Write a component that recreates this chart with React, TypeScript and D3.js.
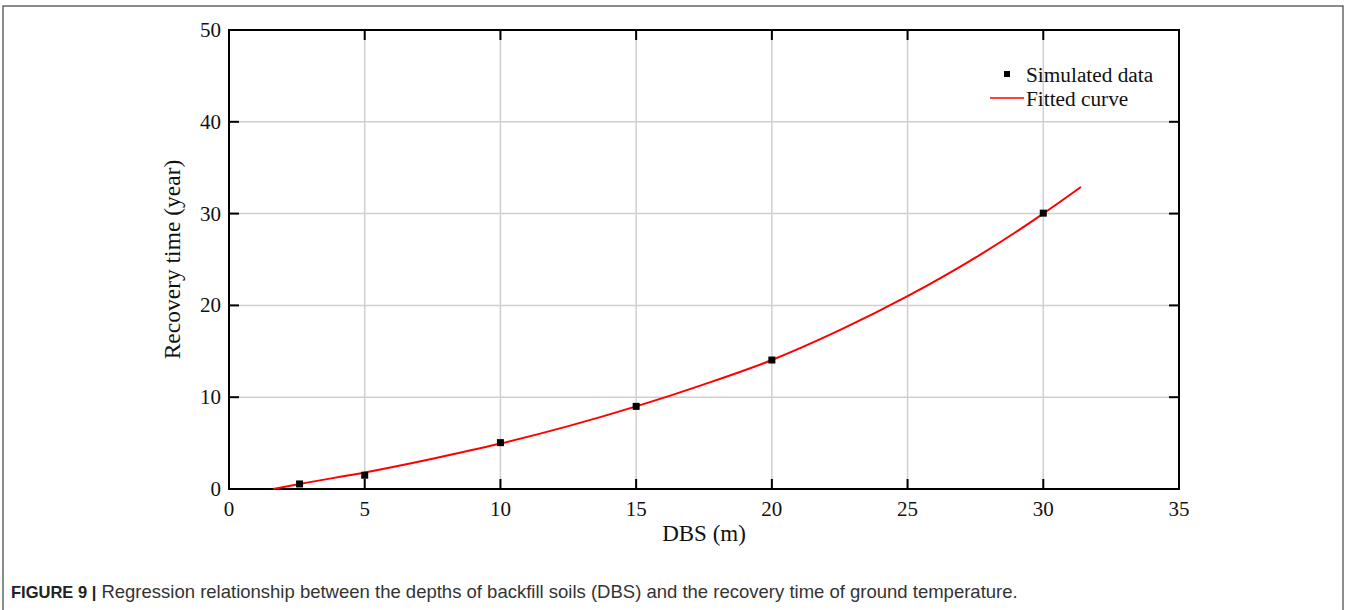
import React from "react";
import * as d3 from "d3";

// Simulated recovery times at each backfill depth
const simDepth = [2.6, 5, 10, 15, 20, 30];
const simTime = [0.55, 1.5, 5.05, 9.0, 14.05, 30.05];

// Points along the fitted regression curve
const fitDepth = [1.63, 2.6, 5, 7.5, 10, 12.5, 15, 17.5, 20, 22.5, 25, 27.5, 30, 31.39];
const fitTime = [0, 0.55, 1.8, 3.3, 4.95, 6.85, 9.0, 11.4, 14.05, 17.3, 21.0, 25.2, 30.0, 32.9];

const xTicks = [0, 5, 10, 15, 20, 25, 30, 35];
const yTicks = [0, 10, 20, 30, 40, 50];

const W = 1351;
const H = 610;
const plot = { left: 229, right: 1179, top: 30, bottom: 489 };

export default function App() {
  const x = d3.scaleLinear().domain([0, 35]).range([plot.left, plot.right]);
  const y = d3.scaleLinear().domain([0, 50]).range([plot.bottom, plot.top]);
  const fitPts = fitDepth.map((d, i) => [d, fitTime[i]] as [number, number]);
  const line = d3
    .line<[number, number]>()
    .x((d) => x(d[0]))
    .y((d) => y(d[1]))
    .curve(d3.curveMonotoneX);
  const tickLen = 10;
  const serif = "'Liberation Serif', 'Times New Roman', serif";
  const sans = "'Liberation Sans', Arial, sans-serif";

  return (
    <svg
      width={W}
      height={H}
      style={{ position: "absolute", left: 0, top: 0, background: "#fff" }}
    >
      {/* figure frame */}
      <rect x={3} y={6} width={1340} height={H} fill="none" stroke="#666" strokeWidth={1.5} />

      {/* grid */}
      {xTicks.slice(1, -1).map((t) => (
        <line key={"gx" + t} x1={x(t)} x2={x(t)} y1={plot.top} y2={plot.bottom} stroke="#cfcfcf" strokeWidth={1.5} />
      ))}
      {yTicks.slice(1, -1).map((t) => (
        <line key={"gy" + t} x1={plot.left} x2={plot.right} y1={y(t)} y2={y(t)} stroke="#cfcfcf" strokeWidth={1.5} />
      ))}

      {/* ticks on all four sides, pointing inward */}
      {xTicks.map((t) => (
        <g key={"tx" + t} stroke="#000" strokeWidth={2}>
          <line x1={x(t)} x2={x(t)} y1={plot.bottom} y2={plot.bottom - tickLen} />
          <line x1={x(t)} x2={x(t)} y1={plot.top} y2={plot.top + tickLen} />
        </g>
      ))}
      {yTicks.map((t) => (
        <g key={"ty" + t} stroke="#000" strokeWidth={2}>
          <line x1={plot.left} x2={plot.left + tickLen} y1={y(t)} y2={y(t)} />
          <line x1={plot.right} x2={plot.right - tickLen} y1={y(t)} y2={y(t)} />
        </g>
      ))}

      {/* axes frame */}
      <rect
        x={plot.left}
        y={plot.top}
        width={plot.right - plot.left}
        height={plot.bottom - plot.top}
        fill="none"
        stroke="#000"
        strokeWidth={2}
      />

      {/* tick labels */}
      {xTicks.map((t) => (
        <text key={"lx" + t} x={x(t)} y={plot.bottom + 27} textAnchor="middle" fontFamily={serif} fontSize={21} fill="#111">
          {t}
        </text>
      ))}
      {yTicks.map((t) => (
        <text key={"ly" + t} x={plot.left - 8} y={y(t) + 7} textAnchor="end" fontFamily={serif} fontSize={21} fill="#111">
          {t}
        </text>
      ))}

      {/* axis titles */}
      <text x={(plot.left + plot.right) / 2} y={541} textAnchor="middle" fontFamily={serif} fontSize={23} fill="#111">
        DBS (m)
      </text>
      <text
        transform={`translate(180, ${(plot.top + plot.bottom) / 2}) rotate(-90)`}
        textAnchor="middle"
        fontFamily={serif}
        fontSize={23.5}
        fill="#111"
      >
        Recovery time (year)
      </text>

      {/* fitted curve */}
      <path d={line(fitPts) || ""} fill="none" stroke="#ff0000" strokeWidth={2} />

      {/* simulated data */}
      {simDepth.map((d, i) => (
        <rect key={"p" + i} x={x(d) - 3.5} y={y(simTime[i]) - 3.5} width={7} height={7} fill="#000" />
      ))}

      {/* legend */}
      <rect x={1004} y={71} width={6} height={6} fill="#000" />
      <text x={1026} y={82} fontFamily={serif} fontSize={21.3} fill="#111">
        Simulated data
      </text>
      <line x1={990} x2={1024} y1={98} y2={98} stroke="#ff0000" strokeWidth={1.5} />
      <text x={1026} y={106} fontFamily={serif} fontSize={21.3} fill="#111">
        Fitted curve
      </text>

      {/* caption */}
      <text x={11} y={598} fontFamily={sans} fontSize={18.5} fill="#333">
        <tspan fontWeight="bold" fontSize={16.5} fill="#222">FIGURE 9 |</tspan>
        <tspan> Regression relationship between the depths of backfill soils (DBS) and the recovery time of ground temperature.</tspan>
      </text>
    </svg>
  );
}
